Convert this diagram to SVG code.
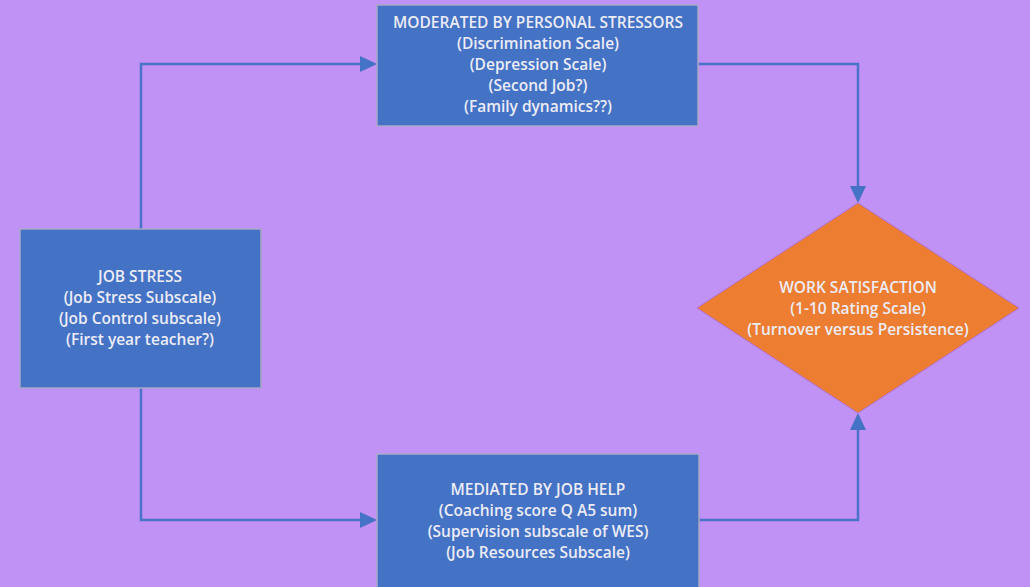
<svg xmlns="http://www.w3.org/2000/svg" width="1030" height="587" viewBox="0 0 1030 587">
<defs>
<style>
.box{fill:#4472C4;stroke:#A9A6C9;stroke-width:1.5}
.dia{fill:#ED7D31;stroke:#B070D0;stroke-width:1}
.t{font-family:"Open Sans","Liberation Sans",sans-serif;font-size:15.5px;font-weight:600;fill:#ECECF6;text-anchor:middle}
.c{fill:none;stroke:#4A72C8;stroke-width:2.5}
</style>
</defs>
<rect width="1030" height="587" fill="#C192F5"/>
<g id="connectors">
<path class="c" d="M141,229 V64 H366"/>
<path d="M377,64 L360,56 L360,72 z" fill="#4472C4"/>
<path class="c" d="M698,64 H858 V192"/>
<path d="M858,203 L850,186 L866,186 z" fill="#4472C4"/>
<path class="c" d="M141,388 V520 H366"/>
<path d="M377,520 L360,512 L360,528 z" fill="#4472C4"/>
<path class="c" d="M699,520 H858 V424"/>
<path d="M858,413 L850,430 L866,430 z" fill="#4472C4"/>
</g>
<g id="moderated">
<rect class="box" x="377" y="5" width="321" height="121"/>
<text class="t" x="538" y="28">MODERATED BY PERSONAL STRESSORS</text>
<text class="t" x="538" y="49">(Discrimination Scale)</text>
<text class="t" x="538" y="70">(Depression Scale)</text>
<text class="t" x="538" y="91">(Second Job?)</text>
<text class="t" x="538" y="112">(Family dynamics??)</text>
</g>
<g id="jobstress">
<rect class="box" x="20" y="229" width="241" height="159"/>
<text class="t" x="140" y="282">JOB STRESS</text>
<text class="t" x="140" y="303">(Job Stress Subscale)</text>
<text class="t" x="140" y="324">(Job Control subscale)</text>
<text class="t" x="140" y="345">(First year teacher?)</text>
</g>
<g id="worksat">
<polygon class="dia" points="858,203 1019,308 858,413 697,308"/>
<text class="t" x="858" y="293">WORK SATISFACTION</text>
<text class="t" x="858" y="314">(1-10 Rating Scale)</text>
<text class="t" x="858" y="335">(Turnover versus Persistence)</text>
</g>
<g id="mediated">
<rect class="box" x="377" y="454" width="322" height="140"/>
<text class="t" x="538" y="495">MEDIATED BY JOB HELP</text>
<text class="t" x="538" y="516">(Coaching score Q A5 sum)</text>
<text class="t" x="538" y="537">(Supervision subscale of WES)</text>
<text class="t" x="538" y="558">(Job Resources Subscale)</text>
</g>
</svg>
